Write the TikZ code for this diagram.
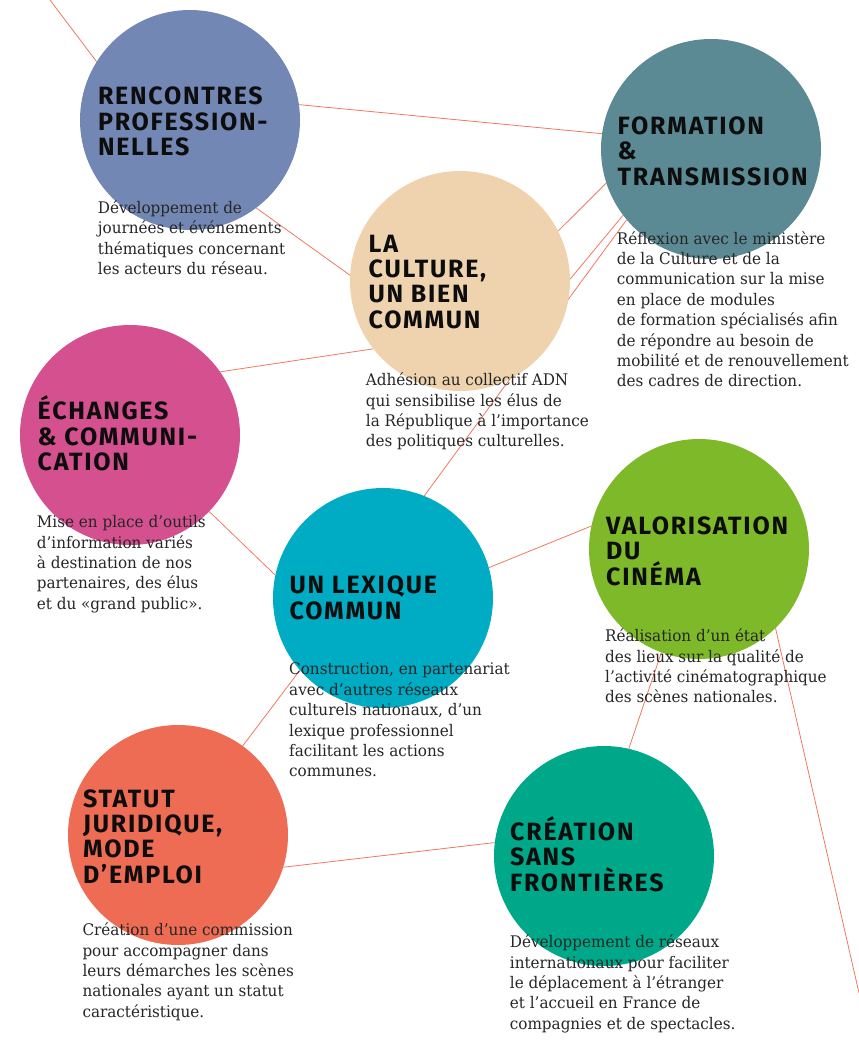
\documentclass[tikz,border=0pt]{standalone}
\usepackage{fontspec}
\usepackage{tikz}
\usetikzlibrary{backgrounds}
\newfontfamily\titlefont[LetterSpace=7.0]{Fira Sans}
\newfontfamily\blurbfont[FakeStretch=0.95]{DejaVu Serif}
\definecolor{rencblue}{HTML}{7387B4}
\definecolor{formteal}{HTML}{5B8A94}
\definecolor{cultsand}{HTML}{EFD3AF}
\definecolor{echpink}{HTML}{D4508F}
\definecolor{lexcyan}{HTML}{00ACC4}
\definecolor{cingreen}{HTML}{7EB92A}
\definecolor{statcoral}{HTML}{EE6C54}
\definecolor{creagreen}{HTML}{00A88A}
\definecolor{linkred}{HTML}{F07860}
% base west of a multi-line node = baseline of its last line
\tikzstyle{bubble} = [circle, minimum size=220pt, inner sep=0pt]
\tikzstyle{heading} = [anchor=base west, align=left, inner sep=0pt, text=black!95, font=\titlefont\bfseries\fontsize{25}{25.4}\selectfont]
\tikzstyle{blurb} = [anchor=base west, align=left, inner sep=0pt, text=black!85, font=\blurbfont\fontsize{16}{20.35}\selectfont]
\tikzstyle{link} = [draw=linkred, line width=0.8pt]

\begin{document}
\begin{tikzpicture}[x=1pt,y=-1pt]
\useasboundingbox (0,0) rectangle (859,1041);
% the eight circles
\foreach \name/\x/\y/\col in {rencontres/190/120/rencblue, formation/711/149/formteal, culture/460/281/cultsand, echanges/130/435/echpink, lexique/383/598/lexcyan, cinema/699/549/cingreen, statut/178/835/statcoral, creation/604/856/creagreen}
  \node[bubble, fill=\col] (\name) at (\x,\y) {};

% headings
\node[heading] (h-renc) at (97.8,155.7) {RENCONTRES\\PROFESSION-\\NELLES};
\node[heading] (h-form) at (617.5,185) {FORMATION\\\&\\TRANSMISSION};
\node[heading] (h-cult) at (368.5,328.3) {LA\\CULTURE,\\UN BIEN\\COMMUN};
\node[heading] (h-ech) at (37.5,470.7) {ÉCHANGES\\\& COMMUNI-\\CATION};
\node[heading] (h-lex) at (289.5,619.3) {UN LEXIQUE\\COMMUN};
\node[heading] (h-cin) at (606,585) {VALORISATION\\DU\\CINÉMA};
\node[heading] (h-stat) at (83,883.3) {STATUT\\JURIDIQUE,\\MODE\\D’EMPLOI};
\node[heading] (h-crea) at (510,891) {CRÉATION\\SANS\\FRONTIÈRES};

% texts under the headings
\node[blurb] (b-renc) at (97.7,274.6) {Développement de\\journées et événements\\thématiques concernant\\les acteurs du réseau.};
\node[blurb] (b-form) at (616.7,386.7) {Réflexion avec le ministère\\de la Culture et de la\\communication sur la mise\\en place de modules\\de formation spécialisés afin\\de répondre au besoin de\\mobilité et de renouvellement\\des cadres de direction.};
\node[blurb] (b-cult) at (365.7,446.7) {Adhésion au collectif ADN\\qui sensibilise les élus de\\la République à l’importance\\des politiques culturelles.};
\node[blurb] (b-ech) at (36.7,609.3) {Mise en place d’outils\\d’information variés\\à destination de nos\\partenaires, des élus\\et du «grand public».};
\node[blurb] (b-lex) at (289,776.7) {Construction, en partenariat\\avec d’autres réseaux\\culturels nationaux, d’un\\lexique professionnel\\facilitant les actions\\communes.};
\node[blurb] (b-cin) at (605,702.7) {Réalisation d’un état\\des lieux sur la qualité de\\l’activité cinématographique\\des scènes nationales.};
\node[blurb] (b-stat) at (82.3,1017.3) {Création d’une commission\\pour accompagner dans\\leurs démarches les scènes\\nationales ayant un statut\\caractéristique.};
\node[blurb] (b-crea) at (509.7,1029.3) {Développement de réseaux\\internationaux pour faciliter\\le déplacement à l’étranger\\et l’accueil en France de\\compagnies et de spectacles.};

% links behind the circles
\begin{scope}[on background layer]
\coordinate (topend) at (50,0);
\coordinate (bottomend) at (859,993);
\foreach \a/\b in {topend/rencontres.148, rencontres.8/formation.172, rencontres.-53/culture.177, culture.27/formation.198, culture.1/formation.-143, lexique.68/formation.-140, echanges.35/culture.218, echanges.-44/lexique.168, lexique.16/cinema.168, lexique.-139/statut.54, statut.-17/creation.173, cinema.-110/creation.77, cinema.-46/bottomend}
  \draw[link] (\a) -- (\b);
\end{scope}
\end{tikzpicture}
\end{document}
